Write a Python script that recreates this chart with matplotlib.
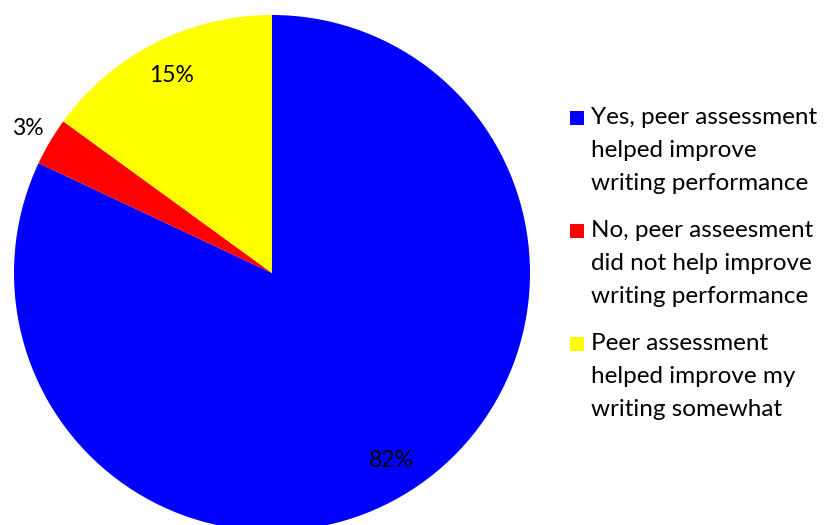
import matplotlib.pyplot as plt
from matplotlib.patches import Rectangle

plt.rcParams['font.family'] = ['Lato', 'DejaVu Sans']

# survey answers
labels = ['Yes, peer assessment\nhelped improve\nwriting performance',
          'No, peer asseesment\ndid not help improve\nwriting performance',
          'Peer assessment\nhelped improve my\nwriting somewhat']
shares = [82, 3, 15]
colors = ['#0000FF', '#FF0000', '#FFFF00']

W, H = 825, 525
fig = plt.figure(figsize=(W / 100, H / 100), dpi=100)
ax = fig.add_axes([14 / W, -6 / H, 516 / W, 516 / H])

wedges, texts, pcts = ax.pie(shares, colors=colors, startangle=90, counterclock=False,
                             autopct='%d%%', pctdistance=0.86, radius=1,
                             textprops={'fontsize': 16.5, 'color': 'black'})
# the thin slice gets its label outside the pie
x, y = pcts[1].get_position()
pcts[1].set_position((x / 0.86 * 1.1, y / 0.86 * 1.1))
ax.set_xlim(-1, 1)
ax.set_ylim(-1, 1)
ax.set_aspect('equal')

# legend: colour square beside the first line of each three-line label
top = 107
for i, (lab, c) in enumerate(zip(labels, colors)):
    y0 = top + i * 113
    fig.patches.append(Rectangle((570 / W, 1 - (y0 + 18) / H), 14 / W, 14 / H,
                                 transform=fig.transFigure, facecolor=c, edgecolor='none'))
    fig.text(591 / W, 1 - y0 / H, lab, fontsize=17.5, va='top', ha='left',
             linespacing=1.72)

fig.savefig('out.png', dpi=100)
